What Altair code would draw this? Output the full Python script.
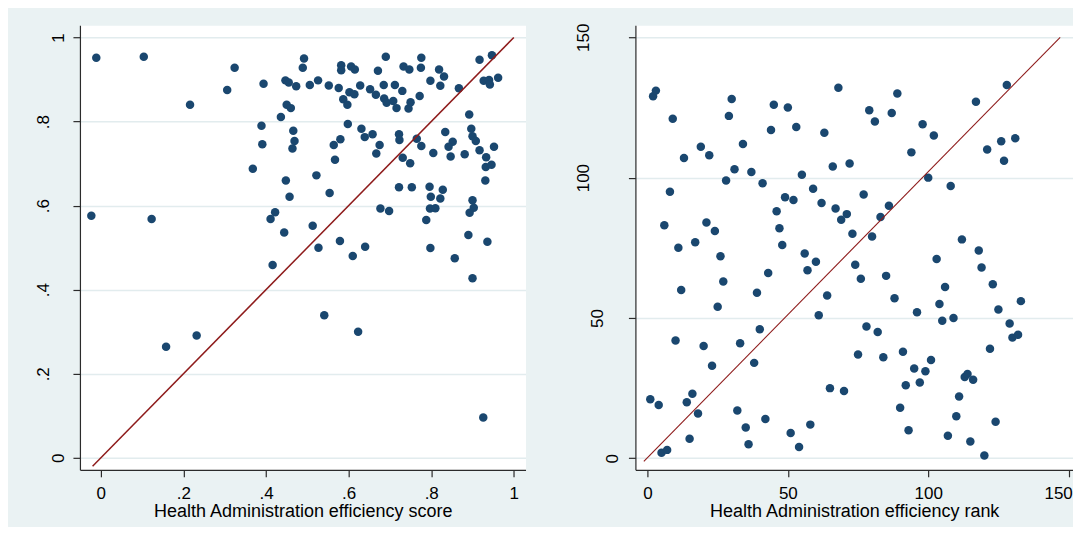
import altair as alt
import pandas as pd

# ---------------- data ----------------
score_x = [
    -0.011, -0.023, 0.104, 0.123, 0.216, 0.306, 0.324, 0.394, 0.389, 0.391,
    0.368, 0.411, 0.422, 0.444, 0.416, 0.436, 0.447, 0.455, 0.473, 0.450,
    0.460, 0.466, 0.469, 0.464, 0.448, 0.457, 0.492, 0.489, 0.506, 0.526,
    0.522, 0.513, 0.527, 0.554, 0.552, 0.576, 0.582, 0.582, 0.587, 0.597,
    0.602, 0.614, 0.606, 0.615, 0.628, 0.598, 0.564, 0.580, 0.567, 0.579,
    0.610, 0.640, 0.631, 0.639, 0.658, 0.675, 0.667, 0.652, 0.666, 0.671,
    0.690, 0.685, 0.686, 0.692, 0.708, 0.716, 0.712, 0.730, 0.733, 0.747,
    0.745, 0.750, 0.772, 0.776, 0.775, 0.798, 0.722, 0.723, 0.731, 0.749,
    0.765, 0.776, 0.722, 0.753, 0.677, 0.698, 0.796, 0.799, 0.797, 0.810,
    0.822, 0.828, 0.788, 0.805, 0.798, 0.857, 0.819, 0.831, 0.822, 0.867,
    0.834, 0.852, 0.842, 0.847, 0.881, 0.892, 0.897, 0.900, 0.908, 0.917,
    0.933, 0.932, 0.946, 0.952, 0.931, 0.917, 0.947, 0.927, 0.940, 0.942,
    0.962, 0.900, 0.903, 0.893, 0.890, 0.936,
    0.158, 0.232, 0.541, 0.623, 0.900, 0.926,
]
score_y = [
    0.952, 0.576, 0.954, 0.568, 0.840, 0.875, 0.928, 0.890, 0.790, 0.746,
    0.688, 0.568, 0.584, 0.536, 0.459, 0.811, 0.898, 0.893, 0.884, 0.840,
    0.832, 0.778, 0.754, 0.736, 0.660, 0.621, 0.950, 0.928, 0.887, 0.898,
    0.672, 0.552, 0.500, 0.630, 0.886, 0.880, 0.934, 0.922, 0.853, 0.840,
    0.870, 0.865, 0.931, 0.924, 0.886, 0.794, 0.744, 0.758, 0.709, 0.516,
    0.480, 0.502, 0.783, 0.763, 0.770, 0.744, 0.724, 0.877, 0.864, 0.921,
    0.954, 0.887, 0.855, 0.845, 0.849, 0.832, 0.887, 0.873, 0.931, 0.924,
    0.831, 0.846, 0.861, 0.952, 0.928, 0.897, 0.770, 0.756, 0.714, 0.701,
    0.759, 0.742, 0.644, 0.644, 0.593, 0.587, 0.645, 0.621, 0.593, 0.594,
    0.617, 0.638, 0.566, 0.725, 0.499, 0.475, 0.924, 0.907, 0.885, 0.879,
    0.775, 0.752, 0.740, 0.717, 0.722, 0.817, 0.783, 0.765, 0.754, 0.732,
    0.715, 0.692, 0.697, 0.740, 0.660, 0.947, 0.958, 0.897, 0.899, 0.888,
    0.904, 0.613, 0.595, 0.583, 0.530, 0.514,
    0.264, 0.291, 0.339, 0.300, 0.427, 0.096,
]

rank_x = [
    2, 3, 9, 8, 13, 6, 11, 17, 21, 24,
    19, 22, 26, 28, 29, 30, 31, 34, 37, 41,
    44, 45, 50, 53, 49, 52, 46, 47, 48, 55,
    59, 56, 60, 57, 63, 62, 67, 66, 68, 69,
    71, 72, 73, 74, 77, 79, 81, 80, 83, 86,
    87, 89, 94, 98, 102, 100, 108, 103, 112, 117,
    118, 119, 121, 126, 127, 128, 131,
    1, 4, 5, 7, 10, 12, 14, 16, 15, 18,
    20, 23, 25, 27, 32, 33, 35, 36, 38, 39,
    40, 42, 43, 51, 54,
    58, 61, 64, 65, 70,
    75, 76, 78, 82, 84, 85, 88, 90, 91, 92, 93, 95, 96, 97, 99, 101, 104,
    105, 106, 107, 109, 110, 111, 113, 114, 116, 115,
    120, 122, 123, 124, 125, 129, 130, 132, 133,
]
rank_y = [
    129, 131, 121, 95, 107, 83, 75, 77, 84, 81,
    111, 108, 72, 99, 122, 128, 103, 112, 102, 98,
    117, 126, 125, 118, 93, 92, 88, 82, 76, 101,
    96, 73, 70, 67, 116, 91, 89, 104, 132, 85,
    87, 105, 80, 69, 94, 124, 120, 79, 86, 90,
    123, 130, 109, 119, 115, 100, 97, 71, 78, 127,
    74, 68, 110, 113, 106, 133, 114,
    21, 19, 2, 3, 42, 60, 20, 23, 7, 16,
    40, 33, 54, 63, 17, 41, 11, 5, 34, 59,
    46, 14, 66, 9, 4,
    12, 51, 58, 25, 24,
    37, 64, 47, 45, 36, 65, 57, 18, 38, 26, 10, 32, 52, 27, 31, 35, 55,
    49, 61, 8, 50, 15, 22, 29, 30, 28, 6,
    1, 39, 62, 13, 53, 48, 43, 44, 56,
]

# reference (diagonal) lines, end points
score_line_x = [-0.02, 1.0]
score_line_y = [-0.02, 1.0]
rank_line_x = [-1.3, 147.0]
rank_line_y = [-1.1, 150.0]

score_ticks = [0, 0.2, 0.4, 0.6, 0.8, 1]
rank_ticks = [0, 50, 100, 150]

score_title = "Health Administration efficiency score"
rank_title = "Health Administration efficiency rank"

# ---------------- style ----------------
NAVY = "#1A476F"
RED = "#8E1B1B"
BG = "#EAF2F3"
GRID = "#E2ECEE"
AXIS = "#2B2B2B"
FONT = "Liberation Sans"

stata_fmt = "datum.value == 0 ? '0' : datum.value == 1 ? '1' : '.' + format(datum.value * 10, 'd')"


def make_panel(xs, ys, lx, ly, xdom, ydom, xticks, yticks, xtitle, width,
               label_expr, ypad_expr, xoff_expr, line_width):
    pts = pd.DataFrame({"x": xs, "y": ys})
    ln = pd.DataFrame({"x": lx, "y": ly})
    xscale = alt.Scale(domain=xdom, nice=False, zero=False)
    yscale = alt.Scale(domain=ydom, nice=False, zero=False)
    xaxis_kw = dict(values=xticks, title=xtitle, grid=False, tickSize=7,
                    labelPadding=9, titlePadding=1, labelAngle=0,
                    labelAlign="center", labelBaseline="top",
                    labelOffset={"expr": xoff_expr},
                    labelFlush=False, labelOverlap=False)
    yaxis_kw = dict(values=yticks, title=None, grid=True, tickSize=7,
                    labelAngle=270, labelAlign="center", labelBaseline="middle",
                    labelPadding={"expr": ypad_expr},
                    labelFlush=False, labelOverlap=False)
    if label_expr:
        xaxis_kw["labelExpr"] = label_expr
        yaxis_kw["labelExpr"] = label_expr
    points = alt.Chart(pts).mark_circle(size=72, color=NAVY, opacity=1).encode(
        x=alt.X("x:Q", scale=xscale, axis=alt.Axis(**xaxis_kw)),
        y=alt.Y("y:Q", scale=yscale, axis=alt.Axis(**yaxis_kw)),
    )
    line = alt.Chart(ln).mark_line(color=RED, strokeWidth=line_width).encode(
        x=alt.X("x:Q", scale=xscale),
        y=alt.Y("y:Q", scale=yscale),
    )
    return alt.layer(points, line).properties(width=width, height=445)


left = make_panel(
    score_x, score_y, score_line_x, score_line_y,
    [-0.0506, 1.0283], [-0.0285, 1.0292],
    score_ticks, score_ticks, score_title, 446, stata_fmt,
    "datum.value == 0 || datum.value == 1 ? 14.5 : 29.5", "0", 1.5,
)
right = make_panel(
    rank_x, rank_y, rank_line_x, rank_line_y,
    [-4.3, 151.57], [-4.1, 154.3],
    rank_ticks, rank_ticks, rank_title, 438, None,
    "datum.value == 0 ? 15.5 : datum.value < 100 ? 31 : 45",
    "datum.value == 150 ? -10.5 : 0", 1.1,
)

chart = alt.hconcat(left, right, spacing=110, bounds="flush").properties(
    background=BG,
    padding={"left": 26, "top": 14, "right": 0, "bottom": 6},
).configure_view(
    fill="white", strokeOpacity=0,
).configure_axis(
    domainColor=AXIS, domainWidth=1.2, tickColor=AXIS, tickWidth=1.2,
    labelColor="black", labelFont=FONT, labelFontSize=17,
    titleFont=FONT, titleFontSize=18, titleFontWeight="normal", titleColor="black",
    gridColor=GRID, gridWidth=1.5,
)

chart.save("out.html", embed_options={"renderer": "svg", "actions": False})
